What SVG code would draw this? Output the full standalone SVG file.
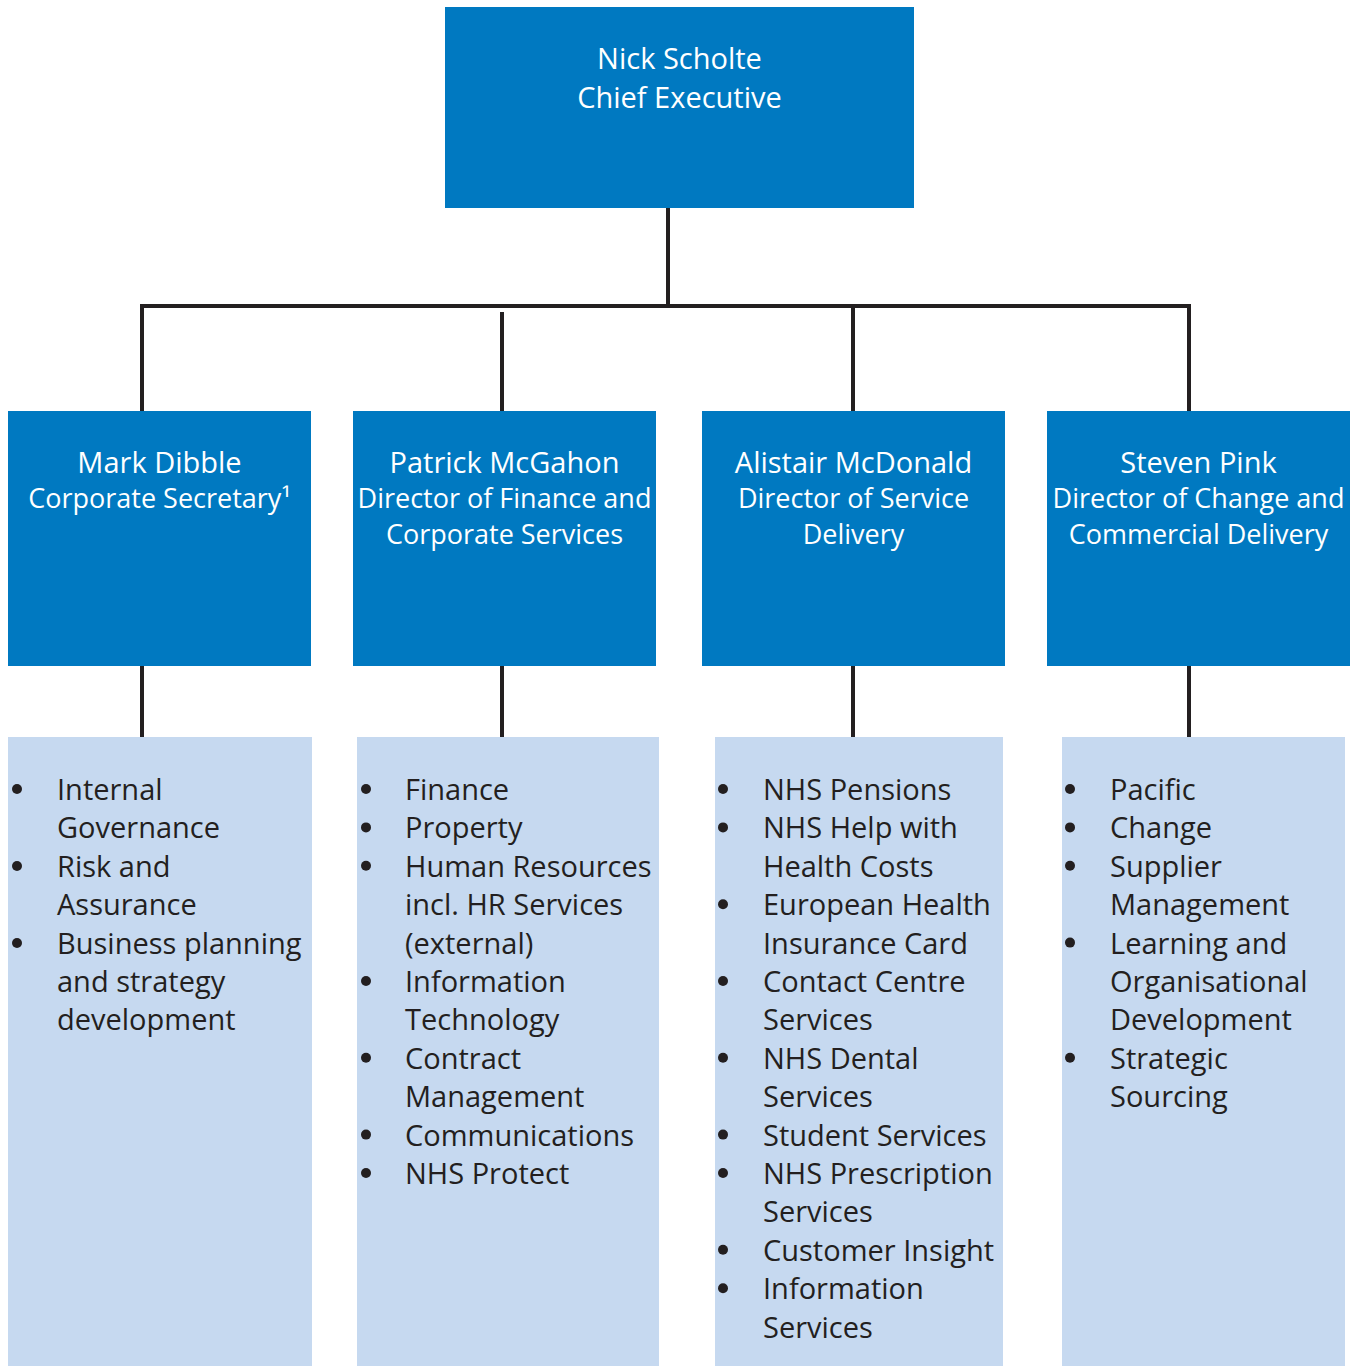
<svg xmlns="http://www.w3.org/2000/svg" width="1355" height="1366" viewBox="0 0 1355 1366">
<style>
.dk{fill:#0079C1}
.lt{fill:#C6D9F0}
.ht{font-family:"Open Sans","Noto Sans",sans-serif;fill:#ffffff;text-anchor:middle}
.nm{font-size:29px}
.rl{font-size:27px}
.bt{font-family:"Open Sans","Noto Sans",sans-serif;font-size:29px;fill:#231F20}
.bl{fill:#231F20}
.cn{stroke:#231F20;stroke-width:4;fill:none}
</style>
<rect width="1355" height="1366" fill="#ffffff"/>
<g id="connectors">
<line class="cn" x1="668" y1="208" x2="668" y2="306"/>
<polyline class="cn" points="142,411 142,306 1189,306 1189,411"/>
<line class="cn" x1="502" y1="312" x2="502" y2="411"/>
<line class="cn" x1="853" y1="306" x2="853" y2="411"/>
<line class="cn" x1="142" y1="666" x2="142" y2="737"/>
<line class="cn" x1="502" y1="666" x2="502" y2="737"/>
<line class="cn" x1="853" y1="666" x2="853" y2="737"/>
<line class="cn" x1="1189" y1="666" x2="1189" y2="737"/>
</g>
<g id="ceo">
<rect class="dk" x="445" y="7" width="469" height="201"/>
<text class="ht nm" x="679.5" y="69">Nick Scholte</text>
<text class="ht nm" x="679.5" y="108">Chief Executive</text>
</g>
<g id="dibble">
<rect class="dk" x="8" y="411" width="303" height="255"/>
<text class="ht nm" x="159.5" y="473">Mark Dibble</text>
<text class="ht rl" x="159.5" y="508">Corporate Secretary¹</text>
</g>
<g id="mcgahon">
<rect class="dk" x="353" y="411" width="303" height="255"/>
<text class="ht nm" x="504.5" y="473">Patrick McGahon</text>
<text class="ht rl" x="504.5" y="508">Director of Finance and</text>
<text class="ht rl" x="504.5" y="544">Corporate Services</text>
</g>
<g id="mcdonald">
<rect class="dk" x="702" y="411" width="303" height="255"/>
<text class="ht nm" x="853.5" y="473">Alistair McDonald</text>
<text class="ht rl" x="853.5" y="508">Director of Service</text>
<text class="ht rl" x="853.5" y="544">Delivery</text>
</g>
<g id="pink">
<rect class="dk" x="1047" y="411" width="303" height="255"/>
<text class="ht nm" x="1198.5" y="473">Steven Pink</text>
<text class="ht rl" x="1198.5" y="508">Director of Change and</text>
<text class="ht rl" x="1198.5" y="544">Commercial Delivery</text>
</g>
<g id="list-dibble">
<rect class="lt" x="8" y="737" width="304" height="629"/>
<circle class="bl" cx="17" cy="789" r="5"/>
<circle class="bl" cx="17" cy="866" r="5"/>
<circle class="bl" cx="17" cy="943" r="5"/>
<text class="bt" x="57" y="800">Internal<tspan x="57" dy="38.4">Governance</tspan><tspan x="57" dy="38.4">Risk and</tspan><tspan x="57" dy="38.4">Assurance</tspan><tspan x="57" dy="38.4">Business planning</tspan><tspan x="57" dy="38.4">and strategy</tspan><tspan x="57" dy="38.4">development</tspan></text>
</g>
<g id="list-mcgahon">
<rect class="lt" x="357" y="737" width="302" height="629"/>
<circle class="bl" cx="366" cy="789" r="5"/>
<circle class="bl" cx="366" cy="827.4" r="5"/>
<circle class="bl" cx="366" cy="865.8" r="5"/>
<circle class="bl" cx="366" cy="981" r="5"/>
<circle class="bl" cx="366" cy="1057.8" r="5"/>
<circle class="bl" cx="366" cy="1134.6" r="5"/>
<circle class="bl" cx="366" cy="1173" r="5"/>
<text class="bt" x="405" y="800">Finance<tspan x="405" dy="38.4">Property</tspan><tspan x="405" dy="38.4">Human Resources</tspan><tspan x="405" dy="38.4">incl. HR Services</tspan><tspan x="405" dy="38.4">(external)</tspan><tspan x="405" dy="38.4">Information</tspan><tspan x="405" dy="38.4">Technology</tspan><tspan x="405" dy="38.4">Contract</tspan><tspan x="405" dy="38.4">Management</tspan><tspan x="405" dy="38.4">Communications</tspan><tspan x="405" dy="38.4">NHS Protect</tspan></text>
</g>
<g id="list-mcdonald">
<rect class="lt" x="715" y="737" width="288" height="629"/>
<circle class="bl" cx="723" cy="789" r="5"/>
<circle class="bl" cx="723" cy="827.4" r="5"/>
<circle class="bl" cx="723" cy="904.2" r="5"/>
<circle class="bl" cx="723" cy="981" r="5"/>
<circle class="bl" cx="723" cy="1057.8" r="5"/>
<circle class="bl" cx="723" cy="1134.6" r="5"/>
<circle class="bl" cx="723" cy="1173" r="5"/>
<circle class="bl" cx="723" cy="1249.8" r="5"/>
<circle class="bl" cx="723" cy="1288.2" r="5"/>
<text class="bt" x="763" y="800">NHS Pensions<tspan x="763" dy="38.4">NHS Help with</tspan><tspan x="763" dy="38.4">Health Costs</tspan><tspan x="763" dy="38.4">European Health</tspan><tspan x="763" dy="38.4">Insurance Card</tspan><tspan x="763" dy="38.4">Contact Centre</tspan><tspan x="763" dy="38.4">Services</tspan><tspan x="763" dy="38.4">NHS Dental</tspan><tspan x="763" dy="38.4">Services</tspan><tspan x="763" dy="38.4">Student Services</tspan><tspan x="763" dy="38.4">NHS Prescription</tspan><tspan x="763" dy="38.4">Services</tspan><tspan x="763" dy="38.4">Customer Insight</tspan><tspan x="763" dy="38.4">Information</tspan><tspan x="763" dy="38.4">Services</tspan></text>
</g>
<g id="list-pink">
<rect class="lt" x="1062" y="737" width="283" height="629"/>
<circle class="bl" cx="1070" cy="789" r="5"/>
<circle class="bl" cx="1070" cy="827.4" r="5"/>
<circle class="bl" cx="1070" cy="865.8" r="5"/>
<circle class="bl" cx="1070" cy="942.6" r="5"/>
<circle class="bl" cx="1070" cy="1057.8" r="5"/>
<text class="bt" x="1110" y="800">Pacific<tspan x="1110" dy="38.4">Change</tspan><tspan x="1110" dy="38.4">Supplier</tspan><tspan x="1110" dy="38.4">Management</tspan><tspan x="1110" dy="38.4">Learning and</tspan><tspan x="1110" dy="38.4">Organisational</tspan><tspan x="1110" dy="38.4">Development</tspan><tspan x="1110" dy="38.4">Strategic</tspan><tspan x="1110" dy="38.4">Sourcing</tspan></text>
</g>
</svg>
